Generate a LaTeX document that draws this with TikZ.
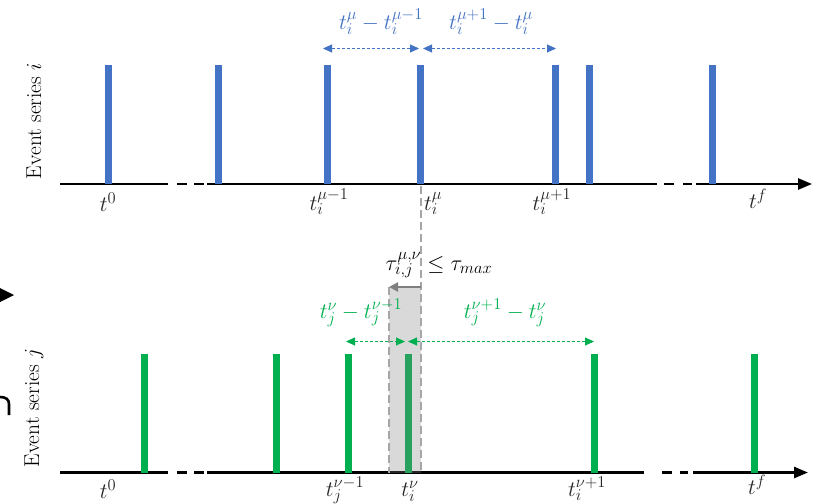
\RequirePackage{fix-cm}
\documentclass[tikz,border=0pt]{standalone}
\usetikzlibrary{arrows.meta}
\DeclareMathSizes{22}{22}{16.5}{12.5}
\DeclareMathSizes{21.5}{21.5}{16}{12}
\definecolor{evblue}{HTML}{4472C4}
\definecolor{evgreen}{HTML}{00B050}
\definecolor{dgray}{HTML}{A6A6A6}
\definecolor{agray}{HTML}{7F7F7F}
\definecolor{txtc}{HTML}{262626}
\begin{document}
\begin{tikzpicture}[x=1pt,y=-1pt,
  axisline/.style={line width=2.6pt,black},
  axistip/.style={-{Triangle[length=14pt,width=11pt]}},
  bluebar/.style={line width=7pt,evblue},
  greenbar/.style={line width=7pt,evgreen},
  lbl/.style={font=\fontsize{22}{24}\selectfont,inner sep=0pt,anchor=base,text=txtc},
  blbl/.style={font=\fontsize{22}{24}\selectfont,inner sep=0pt,anchor=base,text=evblue},
  glbl/.style={font=\fontsize{22}{24}\selectfont,inner sep=0pt,anchor=base,text=evgreen},
  ylbl/.style={font=\fontsize{21.5}{23}\selectfont,inner sep=0pt,rotate=90,text=black},
  bgap/.style={densely dashed,line width=0.9pt,evblue,{Triangle[length=9pt,width=8pt]}-{Triangle[length=9pt,width=8pt]}},
  ggap/.style={densely dashed,line width=0.9pt,evgreen,{Triangle[length=9pt,width=8pt]}-{Triangle[length=9pt,width=8pt]}},
]
\useasboundingbox (0,0) rectangle (826,503);

% ---------- top series i ----------
\coordinate (ta0) at (60,184);
\coordinate (ta1) at (168,184);
\coordinate (ta2) at (177,184);
\coordinate (ta3) at (187,184);
\coordinate (ta4) at (194,184);
\coordinate (ta5) at (204,184);
\coordinate (ta6) at (207,184);
\coordinate (ta7) at (657,184);
\coordinate (ta8) at (664,184);
\coordinate (ta9) at (674,184);
\coordinate (ta10) at (683,184);
\coordinate (ta11) at (692,184);
\coordinate (ta12) at (696,184);
\coordinate (ta13) at (812,184);
\draw[axisline] (ta0) -- (ta1);
\draw[axisline] (ta2) -- (ta3);
\draw[axisline] (ta4) -- (ta5);
\draw[axisline] (ta6) -- (ta7);
\draw[axisline] (ta8) -- (ta9);
\draw[axisline] (ta10) -- (ta11);
\draw[axisline,axistip] (ta12) -- (ta13);

\foreach \n/\x in {1/108.5,2/218,3/327,4/420.5,5/555.5,6/589,7/712.5}{
  \coordinate (bi\n) at (\x,65);
  \draw[bluebar] (bi\n) -- (bi\n |- ta0);
}

% gap arrows (i)
\coordinate (gi1) at (323,48.5);
\coordinate (gi2) at (419,48.5);
\coordinate (gi3) at (423,48.5);
\coordinate (gi4) at (556,48.5);
\draw[bgap] (gi1) -- (gi2);
\draw[bgap] (gi3) -- (gi4);
\node[blbl] (li1) at (381,30) {$t_i^{\mu}-t_i^{\mu-1}$};
\node[blbl] (li2) at (491,30) {$t_i^{\mu+1}-t_i^{\mu}$};

% axis labels (i)
\node[lbl] (ti0) at (108,211) {$t^0$};
\node[lbl] (ti1) at (329,210) {$t_i^{\mu-1}$};
\node[lbl] (ti2) at (433,210) {$t_i^{\mu}$};
\node[lbl] (ti3) at (552,210) {$t_i^{\mu+1}$};
\node[lbl] (ti4) at (758,208) {$t^f$};

\node[ylbl] (yi) at (34,121) {Event series $i$};

% ---------- bottom series j ----------
\coordinate (ba0) at (60,472.5);
\coordinate (ba1) at (168,472.5);
\coordinate (ba2) at (177,472.5);
\coordinate (ba3) at (187,472.5);
\coordinate (ba4) at (194,472.5);
\coordinate (ba5) at (204,472.5);
\coordinate (ba6) at (207,472.5);
\coordinate (ba7) at (644,472.5);
\coordinate (ba8) at (662,472.5);
\coordinate (ba9) at (672,472.5);
\coordinate (ba10) at (680,472.5);
\coordinate (ba11) at (688,472.5);
\coordinate (ba12) at (693,472.5);
\coordinate (ba13) at (808,472.5);
\draw[axisline] (ba0) -- (ba1);
\draw[axisline] (ba2) -- (ba3);
\draw[axisline] (ba4) -- (ba5);
\draw[axisline] (ba6) -- (ba7);
\draw[axisline] (ba8) -- (ba9);
\draw[axisline] (ba10) -- (ba11);
\draw[axisline,axistip] (ba12) -- (ba13);

\foreach \n/\x in {1/144,2/276,3/348,4/408,5/594.5,6/754}{
  \coordinate (bj\n) at (\x,354);
  \draw[greenbar] (bj\n) -- (bj\n |- ba0);
}

% coincidence window
\coordinate (wtl) at (389,287);
\coordinate (wtr) at (421,287);
\coordinate (wbl) at (389,472.5);
\coordinate (wbr) at (421,472.5);
\fill[gray,fill opacity=0.3] (wtl) rectangle (wbr);
\draw[dgray,line width=2pt,dash pattern=on 8pt off 4pt] (wtl) -- (wbl);
\coordinate (tmu) at (421,186);
\draw[dgray,line width=2pt,dash pattern=on 8pt off 4pt] (tmu) -- (wbr);
\draw[agray,line width=2.6pt,-{Triangle[length=9pt,width=9pt]}] (wtr) -- (wtl);
\node[lbl,text=black] (tau) at (439,270) {$\tau_{i,j}^{\mu,\nu}\leq\tau_{max}$};

% gap arrows (j)
\coordinate (gj1) at (346,341.5);
\coordinate (gj2) at (405,341.5);
\coordinate (gj3) at (408,341.5);
\coordinate (gj4) at (594,341.5);
\draw[ggap] (gj1) -- (gj2);
\draw[ggap] (gj3) -- (gj4);
\node[glbl] (lj1) at (361,318) {$t_j^{\nu}-t_j^{\nu-1}$};
\node[glbl] (lj2) at (505,318) {$t_j^{\nu+1}-t_j^{\nu}$};

% axis labels (j)
\node[lbl] (tj0) at (108,498) {$t^0$};
\node[lbl] (tj1) at (345,496) {$t_j^{\nu-1}$};
\node[lbl] (tj2) at (410,496) {$t_i^{\nu}$};
\node[lbl] (tj3) at (587,496) {$t_i^{\nu+1}$};
\node[lbl] (tj4) at (757,494) {$t^f$};

\node[ylbl] (yj) at (34,408) {Event series $j$};

% clipped fragments at left edge
\fill[black] (0,288) -- (14,295) -- (0,302) -- cycle;
\draw[black,line width=2.6pt] (0,397) .. controls (6,397) and (9,399.5) .. (9,404) -- (9,415);
\end{tikzpicture}
\end{document}
